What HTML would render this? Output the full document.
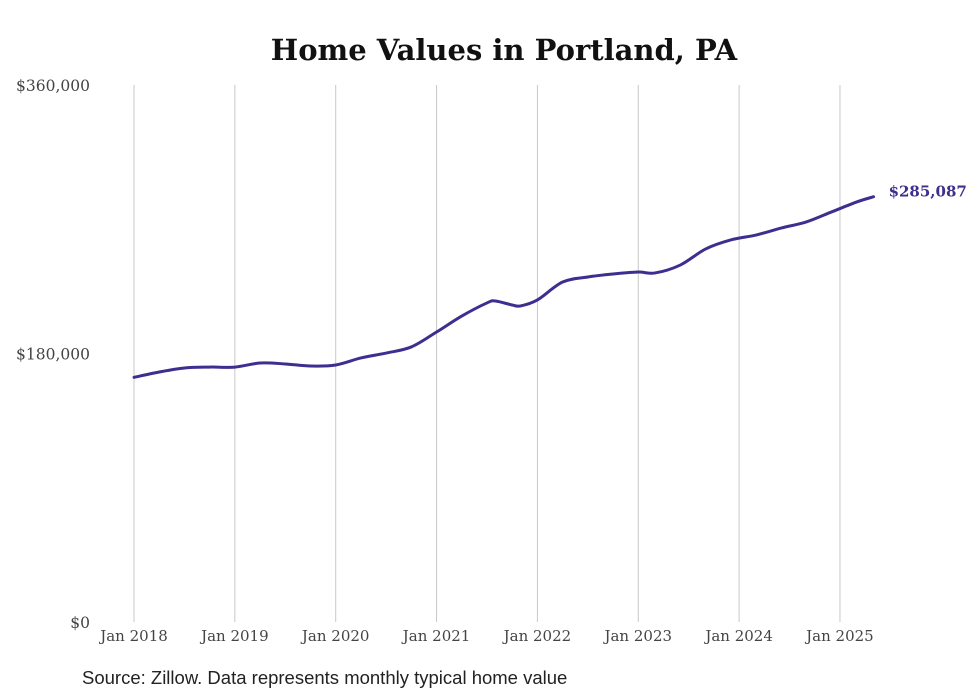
<!DOCTYPE html>
<html><head><meta charset="utf-8"><style>
body{margin:0;background:#fff;}
svg{display:block;}
</style></head><body>
<svg id="chart" width="980" height="699" xmlns="http://www.w3.org/2000/svg">
<text x="504" y="60" text-anchor="middle" font-family="'DejaVu Serif','Liberation Serif',serif" font-weight="bold" font-size="29" fill="#111">Home Values in Portland, PA</text>
<g id="grid"></g>
<g id="yaxis"></g>
<g id="xaxis"></g>
<path id="line" fill="none" stroke="#3d2e8f" stroke-width="3" stroke-linejoin="round" stroke-linecap="round"/>
<text id="endlabel" font-family="'DejaVu Serif','Liberation Serif',serif" font-weight="bold" font-size="15" fill="#3d2e8f"></text>
<text x="82" y="684" font-family="'Liberation Sans','DejaVu Sans',sans-serif" font-size="18.5" fill="#222">Source: Zillow. Data represents monthly typical home value</text>
</svg>
<script>
const monthIndex=[0,3,6,9,12,15,18,21,24,27,30,33,36,39,42,43,45,46,48,51,54,57,60,62,65,68,71,74,77,80,83,86,88];
const homeValues=[164000,167600,170300,170900,170900,173600,173000,171600,172300,177000,180300,184400,194400,205100,213900,215200,212500,211900,215900,227900,231300,233300,234600,234000,239300,250000,256100,259400,264100,268200,274900,281600,285087];
const yTicks=[0,180000,360000];
const yTickLabels=["$0","$180,000","$360,000"];
const xTickLabels=["Jan 2018","Jan 2019","Jan 2020","Jan 2021","Jan 2022","Jan 2023","Jan 2024","Jan 2025"];
const endLabel="$285,087";

const NS="http://www.w3.org/2000/svg";
const x0=134,pxPerMonth=100.85/12,yBase=622,yTop=85,yMax=360000;
const xs=m=>x0+m*pxPerMonth;
const ys=v=>yBase-(v/yMax)*(yBase-yTop);
function mk(tag,attrs,parent,txt){const e=document.createElementNS(NS,tag);for(const k in attrs)e.setAttribute(k,attrs[k]);if(txt!==undefined)e.textContent=txt;parent.appendChild(e);return e;}
const grid=document.getElementById('grid'),yaxis=document.getElementById('yaxis'),xaxis=document.getElementById('xaxis');
xTickLabels.forEach((l,i)=>{
  const x=xs(i*12);
  const g=mk('line',{x1:x,x2:x,y1:yTop,y2:yBase,stroke:'#c8c8c8','stroke-width':1},grid);
  
  
  const t=mk('text',{x:x,y:yBase+19,'text-anchor':'middle','font-family':"'DejaVu Serif','Liberation Serif',serif",'font-size':15,fill:'#444'},xaxis,l);
  
  
});
yTicks.forEach((v,i)=>{
  const t=mk('text',{x:90,y:ys(v)+6,'text-anchor':'end','font-family':"'DejaVu Serif','Liberation Serif',serif",'font-size':15.5,fill:'#444'},yaxis,yTickLabels[i]);
  
  
});
const pts=monthIndex.map((m,i)=>[xs(m),ys(homeValues[i])]);
let d='M'+pts[0][0]+','+pts[0][1];
for(let i=0;i<pts.length-1;i++){
  const p0=pts[Math.max(0,i-1)],p1=pts[i],p2=pts[i+1],p3=pts[Math.min(pts.length-1,i+2)];
  const c1=[p1[0]+(p2[0]-p0[0])/6,p1[1]+(p2[1]-p0[1])/6];
  const c2=[p2[0]-(p3[0]-p1[0])/6,p2[1]-(p3[1]-p1[1])/6];
  d+=` C${c1[0]},${c1[1]} ${c2[0]},${c2[1]} ${p2[0]},${p2[1]}`;
}
document.getElementById('line').setAttribute('d',d);
const last=pts[pts.length-1];
const el=document.getElementById('endlabel');
el.setAttribute('x',last[0]+15);el.setAttribute('y',last[1]);el.textContent=endLabel;
</script>
</body></html>
